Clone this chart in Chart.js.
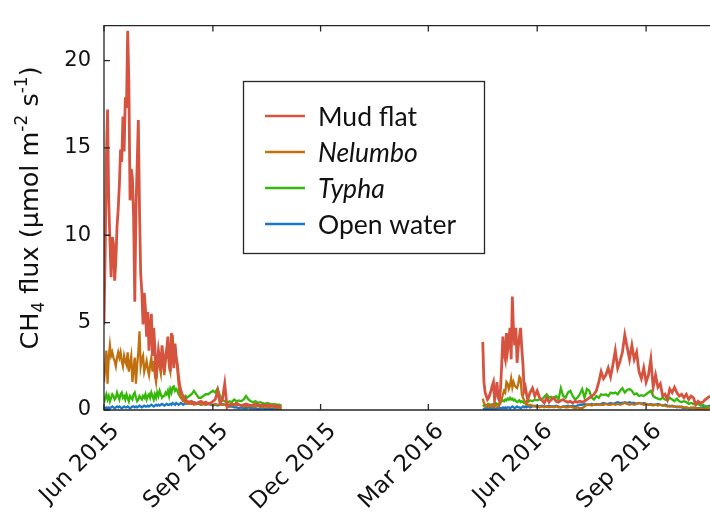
<!DOCTYPE html>
<html lang="en">
<head>
<meta charset="UTF-8">
<title>CH4 flux</title>
<script src="https://cdn.jsdelivr.net/npm/chart.js"></script>
<style>
  html, body { margin: 0; padding: 0; background: #fff; }
</style>
</head>
<body>
<canvas id="myChart" width="710" height="524"></canvas>
<script>
// sample days, counted from 1 Jun 2015
function seq(a, b, step) { const out = []; for (let d = a; d <= b; d += step) out.push(d); return out; }
const days2015 = seq(0, 70, 1).concat(seq(72, 150, 2));
const days2016 = seq(320, 360, 1).concat(seq(362, 512, 2));

const tickDays = [0, 92, 183, 274, 366, 458];
const tickLabels = ['Jun 2015', 'Sep 2015', 'Dec 2015', 'Mar 2016', 'Jun 2016', 'Sep 2016'];
const yTicks = [0, 5, 10, 15, 20];

const seriesNames = ['Mud flat', 'Nelumbo', 'Typha', 'Open water'];
const seriesColors = ['#d6533f', '#c0700f', '#36b80a', '#1a78c8'];
const seriesItalic = [false, true, true, false];

// 2015 season
const mudFlat2015 = [
  4.9, 9.0, 14.5, 17.2, 12.0, 9.7, 7.6, 9.9, 9.5, 7.4,
  8.5, 10.5, 11.5, 12.9, 14.9, 14.2, 16.8, 14.8, 17.9, 17.3,
  21.7, 18.8, 12.0, 13.8, 13.3, 11.1, 6.2, 11.5, 14.0, 16.6,
  11.5, 7.8, 6.7, 4.9, 6.7, 5.8, 4.2, 5.6, 3.4, 4.6,
  5.5, 3.1, 4.7, 3.6, 1.8, 2.6, 3.4, 2.9, 2.6, 3.7,
  3.0, 2.2, 3.1, 3.5, 4.2, 2.8, 2.2, 4.4, 3.2, 2.4,
  3.8, 3.0, 2.6, 1.9, 1.4, 1.1, 0.9, 0.8, 0.7, 0.6,
  0.5,
  0.45, 0.5, 0.4, 0.35, 0.45, 0.5, 0.4, 0.45, 0.35, 0.4,
  0.5, 0.6, 1.1, 0.4, 0.6, 1.5, 0.15, 0.3, 0.35, 0.3,
  0.4, 0.3, 0.25, 0.3, 0.35, 0.3, 0.25, 0.3, 0.35, 0.3,
  0.25, 0.3, 0.25, 0.3, 0.25, 0.3, 0.2, 0.25, 0.2, 0.2
];
const nelumbo2015 = [
  1.6, 2.5, 3.4, 1.5, 3.0, 3.7, 3.1, 3.3, 3.0, 2.8,
  2.5, 3.0, 3.3, 3.0, 3.3, 2.8, 2.5, 3.1, 2.8, 2.6,
  3.3, 2.2, 2.7, 3.1, 1.6, 2.4, 3.0, 1.5, 2.6, 3.3,
  4.5, 2.5, 2.9, 3.1, 2.2, 2.5, 2.8, 2.3, 2.0, 2.6,
  3.0, 2.2, 2.8, 2.0, 1.6, 2.4, 3.0, 2.5, 2.1, 3.2,
  2.6, 2.0, 2.9, 3.0, 3.6, 2.5, 2.2, 3.8, 4.3, 2.8,
  3.6, 2.9, 2.4, 1.5, 0.9, 0.7, 0.6, 0.5, 0.5, 0.4,
  0.4,
  0.35, 0.4, 0.3, 0.35, 0.4, 0.3, 0.35, 0.3, 0.4, 0.35,
  0.3, 0.35, 0.3, 0.35, 0.3, 0.3, 0.25, 0.3, 0.25, 0.3,
  0.25, 0.3, 0.25, 0.2, 0.25, 0.2, 0.25, 0.2, 0.2, 0.25,
  0.2, 0.15, 0.2, 0.2, 0.15, 0.2, 0.15, 0.15, 0.1, 0.1
];
const typha2015 = [
  0.4, 0.7, 0.9, 0.6, 0.8, 0.5, 0.7, 0.9, 0.8, 0.6,
  0.7, 1.0, 0.8, 0.6, 0.9, 1.0, 0.7, 0.8, 0.6, 0.9,
  0.7, 0.5, 0.8, 0.7, 0.6, 0.9, 1.0, 0.7, 0.5, 0.6,
  0.8, 0.7, 0.6, 0.8, 0.7, 0.9, 0.6, 0.8, 0.9, 0.7,
  1.0, 0.8, 0.6, 0.9, 0.7, 1.0, 0.8, 1.1, 0.9, 0.7,
  0.8, 0.8, 1.0, 0.9, 1.1, 0.8, 1.2, 1.0, 1.3, 1.35,
  1.1, 1.2, 1.1, 0.9, 0.8, 0.7, 0.7, 0.6, 0.7, 0.8,
  0.7,
  0.8, 0.9, 1.1, 0.9, 0.7, 0.7, 0.8, 0.9, 0.9, 1.0,
  1.1, 1.0, 1.25, 0.8, 0.55, 0.5, 0.4, 0.5, 0.45, 0.6,
  0.5, 0.55, 0.5, 0.6, 0.8, 0.6, 0.5, 0.45, 0.5, 0.4,
  0.45, 0.4, 0.35, 0.4, 0.35, 0.3, 0.35, 0.3, 0.3, 0.25
];
const openWater2015 = [
  0.1, 0.1, 0.15, 0.1, 0.15, 0.1, 0.15, 0.2, 0.15, 0.1,
  0.15, 0.2, 0.15, 0.2, 0.15, 0.1, 0.15, 0.2, 0.15, 0.15,
  0.2, 0.15, 0.1, 0.15, 0.2, 0.2, 0.15, 0.2, 0.15, 0.2,
  0.25, 0.2, 0.15, 0.2, 0.25, 0.2, 0.2, 0.25, 0.2, 0.25,
  0.3, 0.25, 0.2, 0.25, 0.3, 0.25, 0.3, 0.25, 0.3, 0.35,
  0.3, 0.25, 0.3, 0.35, 0.3, 0.3, 0.35, 0.3, 0.4, 0.35,
  0.3, 0.4, 0.35, 0.3, 0.35, 0.4, 0.35, 0.3, 0.35, 0.4,
  0.35,
  0.4, 0.35, 0.45, 0.4, 0.35, 0.3, 0.35, 0.3, 0.35, 0.3,
  0.25, 0.3, 0.25, 0.3, 0.35, 0.3, 0.25, 0.2, 0.2, 0.15,
  0.15, 0.1, 0.15, 0.1, 0.1, 0.15, 0.1, 0.1, 0.1, 0.05,
  0.1, 0.1, 0.05, 0.1, 0.05, 0.05, 0.1, 0.05, 0.05, 0.05
];

// 2016 season
const mudFlat2016 = [
  3.9, 1.6, 1.0, 0.8, 0.6, 0.7, 0.9, 1.1, 1.4, 1.6,
  0.6, 1.0, 1.6, 0.7, 0.55, 1.2, 2.6, 4.2, 3.2, 2.9,
  4.4, 3.4, 3.9, 4.7, 2.9, 6.5, 4.5, 3.7, 4.7, 2.7,
  3.6, 4.2, 4.7, 3.5, 2.6, 1.1, 1.3, 0.9, 0.6, 0.8,
  1.0,
  1.25, 0.8, 1.1, 0.7, 0.55, 0.4, 0.7, 0.45, 0.6, 0.7,
  0.5, 0.45, 0.55, 0.6, 0.5, 0.45, 0.5, 0.4, 0.5, 0.45,
  0.5, 0.45, 0.5, 0.6, 0.7, 0.8, 0.9, 1.1, 1.6, 2.2,
  1.8, 2.0, 2.4, 1.9, 2.6, 3.4, 2.4, 2.8, 3.3, 4.3,
  3.6, 2.9, 3.7, 2.9, 3.3, 2.2, 1.8, 2.4, 1.6, 2.0,
  2.9, 1.3, 2.0, 1.3, 1.5, 0.8, 0.9, 0.6, 1.2, 1.0,
  1.3, 1.0, 0.8, 0.9, 0.7, 0.9, 0.6, 0.8, 0.7, 0.3,
  0.5, 0.4, 0.45, 0.6, 0.7, 0.8
];
const nelumbo2016 = [
  0.65, 0.4, 0.25, 0.2, 0.3, 0.2, 0.25, 0.3, 0.2, 0.25,
  0.2, 0.3, 0.25, 0.2, 0.3, 0.4, 0.6, 0.9, 1.1, 1.0,
  1.6, 1.5, 1.2, 1.4, 1.8, 1.3, 1.6, 1.4, 1.3, 1.25,
  1.5, 1.9, 1.8, 0.9, 0.7, 0.55, 0.4, 0.3, 0.3, 0.25,
  0.3,
  0.25, 0.2, 0.2, 0.15, 0.2, 0.15, 0.2, 0.15, 0.2, 0.15,
  0.2, 0.15, 0.15, 0.2, 0.15, 0.15, 0.2, 0.15, 0.1, 0.15,
  0.1, 0.1, 0.2, 0.3, 0.3, 0.25, 0.3, 0.3, 0.35, 0.3,
  0.3, 0.35, 0.3, 0.3, 0.35, 0.3, 0.35, 0.3, 0.35, 0.4,
  0.35, 0.3, 0.35, 0.3, 0.35, 0.4, 0.35, 0.3, 0.35, 0.3,
  0.3, 0.25, 0.3, 0.25, 0.3, 0.25, 0.25, 0.2, 0.25, 0.2,
  0.2, 0.2, 0.15, 0.2, 0.15, 0.15, 0.1, 0.15, 0.1, 0.1,
  0.05, 0.1, 0.05, 0.05, 0.1, 0.1
];
const typha2016 = [
  0.2, 0.25, 0.3, 0.25, 0.3, 0.35, 0.3, 0.25, 0.3, 0.35,
  0.3, 0.4, 0.35, 0.3, 0.4, 0.45, 0.5, 0.55, 0.5, 0.6,
  0.55, 0.65, 0.6, 0.7, 0.6, 0.65, 0.55, 0.6, 0.5, 0.45,
  0.5, 0.55, 0.45, 0.5, 0.45, 0.4, 0.45, 0.5, 0.45, 0.5,
  0.55,
  0.5, 0.6, 0.55, 0.6, 0.6, 0.75, 0.9, 0.7, 0.75, 0.65,
  0.8, 0.6, 1.25, 0.8, 0.7, 1.0, 1.1, 0.8, 0.6, 0.7,
  0.9, 1.2, 0.7, 1.2, 1.1, 0.7, 0.6, 0.8, 0.7, 0.9,
  0.85, 0.9, 0.8, 1.0, 0.95, 1.0, 0.9, 1.1, 1.25, 1.0,
  1.15, 1.2, 1.1, 0.9, 0.95, 0.8, 0.85, 0.8, 0.9, 1.0,
  1.1, 0.8, 0.7, 0.65, 0.6, 0.7, 0.6, 0.55, 0.7, 0.6,
  0.5, 0.65, 0.5, 0.45, 0.5, 0.45, 0.35, 0.4, 0.35, 0.3,
  0.35, 0.25, 0.3, 0.2, 0.15, 0.2
];
const openWater2016 = [
  0.05, 0.05, 0.1, 0.05, 0.1, 0.05, 0.1, 0.1, 0.05, 0.1,
  0.1, 0.05, 0.1, 0.1, 0.15, 0.1, 0.1, 0.15, 0.1, 0.15,
  0.1, 0.15, 0.15, 0.1, 0.15, 0.2, 0.15, 0.1, 0.15, 0.2,
  0.15, 0.15, 0.1, 0.15, 0.2, 0.15, 0.2, 0.15, 0.2, 0.2,
  0.15,
  0.2, 0.25, 0.2, 0.2, 0.25, 0.2, 0.2, 0.25, 0.2, 0.2,
  0.25, 0.2, 0.15, 0.2, 0.2, 0.25, 0.2, 0.25, 0.2, 0.25,
  0.3, 0.3, 0.35, 0.3, 0.3, 0.35, 0.3, 0.35, 0.3, 0.35,
  0.4, 0.35, 0.35, 0.4, 0.35, 0.4, 0.45, 0.4, 0.4, 0.45,
  0.4, 0.45, 0.4, 0.4, 0.35, 0.4, 0.35, 0.4, 0.35, 0.3,
  0.35, 0.3, 0.3, 0.35, 0.3, 0.25, 0.3, 0.25, 0.2, 0.25,
  0.2, 0.15, 0.2, 0.15, 0.1, 0.15, 0.1, 0.1, 0.15, 0.1,
  0.1, 0.1, 0.15, 0.2, 0.2, 0.25
];

// join both seasons, with a null point so the winter stays empty
function toPoints(a, b) {
  const pts = days2015.map((d, i) => ({ x: d, y: a[i] }));
  pts.push({ x: 235, y: null });
  return pts.concat(days2016.map((d, i) => ({ x: d, y: b[i] })));
}
const allSeries = [
  toPoints(mudFlat2015, mudFlat2016),
  toPoints(nelumbo2015, nelumbo2016),
  toPoints(typha2015, typha2016),
  toPoints(openWater2015, openWater2016)
];

const INK = '#262626';
const AXIS_FONT = 'DejaVu Sans';

// box on left/top/bottom with MATLAB style inward ticks
const frame = {
  id: 'frame',
  afterDatasetsDraw(chart) {
    const { ctx, chartArea: a, scales: { x, y } } = chart;
    ctx.save();
    ctx.strokeStyle = INK;
    ctx.lineWidth = 1.3;
    ctx.beginPath();
    ctx.moveTo(a.right + 2, a.top); ctx.lineTo(a.left, a.top);
    ctx.lineTo(a.left, a.bottom); ctx.lineTo(a.right + 2, a.bottom);
    ctx.stroke();
    ctx.beginPath();
    x.ticks.forEach(t => {
      const px = x.getPixelForValue(t.value);
      ctx.moveTo(px, a.bottom); ctx.lineTo(px, a.bottom - 6);
      ctx.moveTo(px, a.top); ctx.lineTo(px, a.top + 6);
    });
    y.ticks.forEach(t => {
      const py = y.getPixelForValue(t.value);
      ctx.moveTo(a.left, py); ctx.lineTo(a.left + 6, py);
    });
    ctx.stroke();
    ctx.restore();
  }
};

// y title with sub and superscripts
const yTitle = {
  id: 'yTitle',
  afterDraw(chart) {
    const { ctx } = chart;
    const big = '25.5px ' + AXIS_FONT, small = '17px ' + AXIS_FONT;
    const parts = [
      ['CH', big, 0], ['4', small, 6], [' flux (\u00b5mol m', big, 0],
      ['-2', small, -11], [' s', big, 0], ['-1', small, -11], [')', big, 0]
    ];
    ctx.save();
    let total = 0;
    parts.forEach(p => { ctx.font = p[1]; total += ctx.measureText(p[0]).width; });
    ctx.translate(38, 208);
    ctx.rotate(-Math.PI / 2);
    ctx.fillStyle = '#111';
    ctx.textBaseline = 'alphabetic';
    let cx = -total / 2;
    parts.forEach(p => {
      ctx.font = p[1];
      ctx.fillText(p[0], cx, p[2]);
      cx += ctx.measureText(p[0]).width;
    });
    ctx.restore();
  }
};

// boxed legend with italic genus names
const boxLegend = {
  id: 'boxLegend',
  afterDraw(chart) {
    const { ctx } = chart;
    ctx.save();
    ctx.fillStyle = '#fff';
    ctx.fillRect(243, 81, 241, 172);
    ctx.strokeStyle = INK;
    ctx.lineWidth = 1.3;
    ctx.strokeRect(243.5, 81.5, 241, 172);
    ctx.textBaseline = 'middle';
    chart.data.datasets.forEach((ds, i) => {
      const yy = 116 + i * 36;
      ctx.strokeStyle = ds.borderColor;
      ctx.lineWidth = 2.4;
      ctx.beginPath(); ctx.moveTo(265, yy); ctx.lineTo(305, yy); ctx.stroke();
      ctx.fillStyle = '#111';
      ctx.font = (ds.italic ? 'italic ' : '') + '26.5px Lato';
      ctx.fillText(ds.label, 318, yy + 1);
    });
    ctx.restore();
  }
};

new Chart(document.getElementById('myChart'), {
  type: 'line',
  data: {
    datasets: seriesNames.map((name, i) => ({
      label: name,
      italic: seriesItalic[i],
      data: allSeries[i],
      borderColor: seriesColors[i],
      backgroundColor: seriesColors[i],
      borderWidth: i === 0 ? 2.8 : 2.3,
      pointRadius: 0,
      tension: 0,
      spanGaps: false
    }))
  },
  options: {
    responsive: false,
    animation: false,
    events: [],
    layout: { padding: { top: 8, right: 0, left: 0, bottom: 0 } },
    plugins: { legend: { display: false }, tooltip: { enabled: false } },
    scales: {
      x: {
        type: 'linear',
        min: 0,
        max: 512,
        afterBuildTicks: s => { s.ticks = tickDays.map(v => ({ value: v })); },
        afterFit: s => { s.height = 114; },
        grid: { display: false, drawTicks: false },
        border: { display: false },
        ticks: {
          autoSkip: false,
          minRotation: 45,
          maxRotation: 45,
          padding: 8,
          labelOffset: 12,
          color: '#111',
          font: { family: AXIS_FONT, size: 23 },
          callback: v => tickLabels[tickDays.indexOf(v)]
        }
      },
      y: {
        min: 0,
        max: 22,
        afterBuildTicks: s => { s.ticks = yTicks.map(v => ({ value: v })); },
        afterFit: s => { s.width = 104; },
        grid: { display: false, drawTicks: false },
        border: { display: false },
        ticks: {
          padding: 13,
          color: '#111',
          font: { family: AXIS_FONT, size: 21 }
        }
      }
    }
  },
  plugins: [frame, yTitle, boxLegend]
});
</script>
</body>
</html>
